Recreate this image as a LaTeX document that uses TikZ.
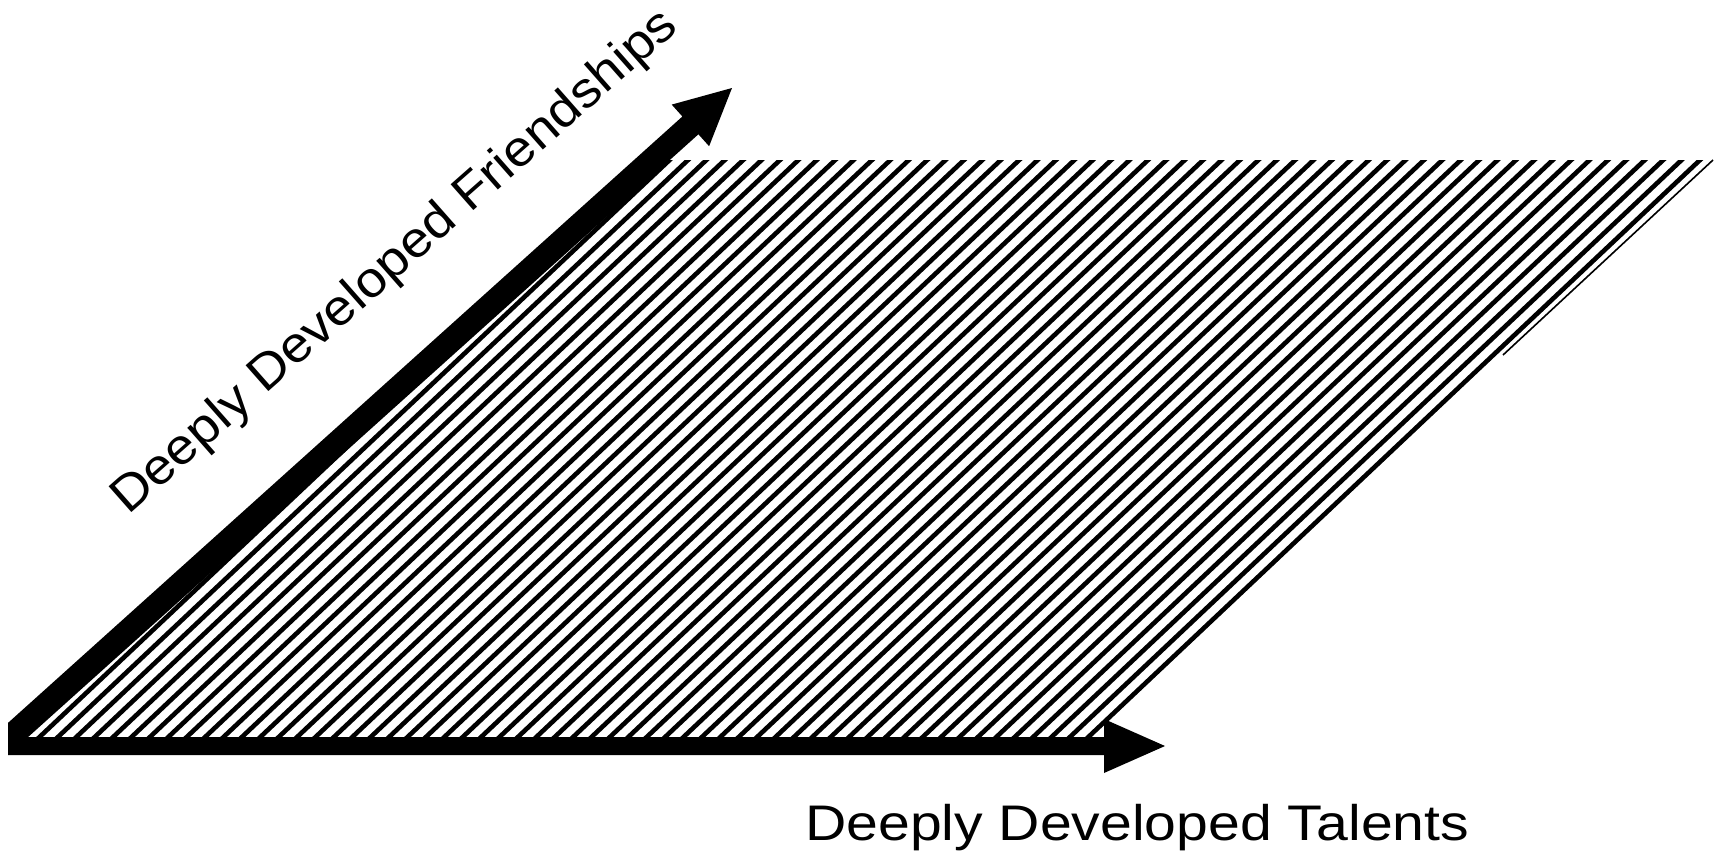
\documentclass[tikz,border=0pt]{standalone}
\usepackage{fontspec}
\setmainfont{Liberation Sans}
\begin{document}
\begin{tikzpicture}[x=1pt,y=-1pt,
  hatchline/.style={line width=4.6pt},
  thinline/.style={line width=1.6pt},
  blockarrow/.style={fill=black},
  lbl/.style={inner sep=0pt, font=\fontsize{50}{60}\selectfont}]
\useasboundingbox[fill=white] (0,0) rectangle (1725,854);
% hatched region
\coordinate (hTL) at (640,160);
\coordinate (hTR) at (1704,160);
\coordinate (hBR) at (1087,742);
\coordinate (hBL) at (8,742);
\begin{scope}
  \clip (hTL) -- (hTR) -- (hBR) -- (hBL) -- cycle;
  \foreach \k in {0,...,64} {
    \draw[hatchline] ({1700-18.4*\k+0.7274*30},{160-0.6862*30}) -- ++({-0.7274*1000},{0.6862*1000});
  }
\end{scope}
\coordinate (t1) at (1713,160);
\coordinate (t2) at (1503,355);
\draw[thinline] (t1) -- (t2);
% horizontal arrow
\coordinate (h1) at (8,737);
\coordinate (h2) at (1104,737);
\coordinate (h3) at (1104,719);
\coordinate (htip) at (1165,746);
\coordinate (h5) at (1104,773);
\coordinate (h6) at (1104,755);
\coordinate (h7) at (8,755);
\fill[blockarrow] (h1) -- (h2) -- (h3) -- (htip) -- (h5) -- (h6) -- (h7) -- cycle;
% diagonal arrow
\coordinate (d1) at (8,722.9);
\coordinate (d2) at (682.4,116.5);
\coordinate (d3) at (671.7,104.6);
\coordinate (dtip) at (732,88);
\coordinate (d5) at (709.1,146.2);
\coordinate (d6) at (698.4,134.3);
\coordinate (d7) at (8,755.1);
\fill[blockarrow] (d1) -- (d2) -- (d3) -- (dtip) -- (d5) -- (d6) -- (d7) -- cycle;
% labels
\node[lbl, anchor=base west] (talents) at (805,840) {\scalebox{1.143}[1]{Deeply Developed Talents}};
\node[lbl, anchor=base west, rotate=41.4] (friends) at (128,516) {\scalebox{1.081}[1]{Deeply Developed Friendships}};
\end{tikzpicture}
\end{document}
